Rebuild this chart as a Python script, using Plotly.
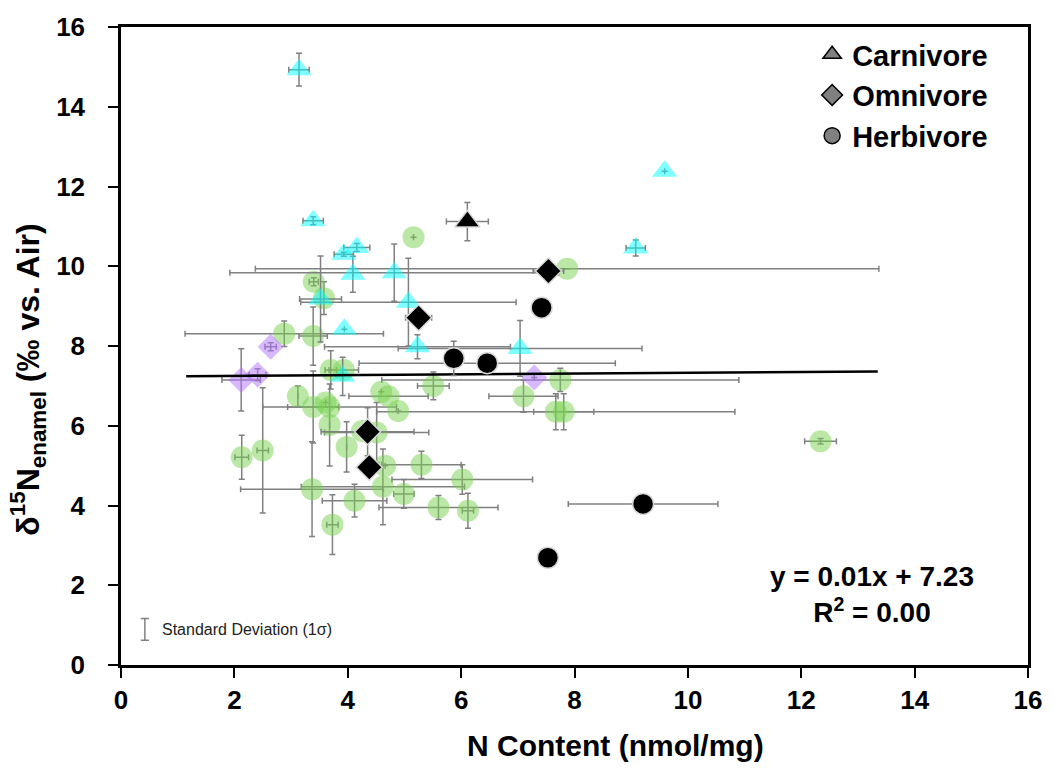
import plotly.graph_objects as go

# ---------------- data ----------------
# Carnivore (cyan triangles)
carn_x = [3.14, 3.39, 4.16, 3.93, 4.09, 4.82, 3.52, 5.07, 3.94, 5.23, 7.04, 3.91, 9.59, 9.08]
carn_y = [14.93, 11.14, 10.47, 10.30, 9.80, 9.84, 9.18, 9.10, 8.42, 7.98, 7.94, 7.24, 12.38, 10.46]
carn_xe = [0.18, 0.18, 0.23, 0.17, None, 2.90, 0.37, 1.90, None, 1.64, 2.15, None, None, 0.17]
carn_ye = [0.41, 0.10, 0.10, 0.05, 0.45, 0.72, 1.08, 1.10, None, 0.30, 0.70, 0.48, None, 0.20]

# Herbivore (green circles)
herb_x = [7.87, 5.16, 3.40, 3.58, 2.88, 3.39, 3.70, 3.93, 7.75, 5.51, 7.10, 4.59, 4.72, 4.89,
          3.12, 3.39, 3.68, 3.61, 3.68, 3.98, 4.25, 4.51, 4.66, 4.62, 5.30, 6.02, 4.99, 4.12,
          3.73, 5.60, 6.12, 3.37, 2.13, 2.50, 7.67, 7.81, 12.34]
herb_y = [9.94, 10.73, 9.61, 9.20, 8.31, 8.25, 7.40, 7.40, 7.15, 7.00, 6.74, 6.85, 6.74, 6.37,
          6.74, 6.47, 6.47, 6.58, 6.02, 5.47, 5.87, 5.83, 5.00, 4.47, 5.02, 4.65, 4.29, 4.12,
          3.52, 3.95, 3.87, 4.41, 5.21, 5.38, 6.35, 6.35, 5.61]
herb_xe = [5.50, None, 0.08, None, 1.75, 0.25, 0.10, 0.26, 3.15, 0.28, 0.61, None, 0.70, None,
           None, 0.45, 1.18, None, None, None, None, 0.92, None, 1.44, 0.70, 1.24, 0.18, 0.57,
           0.10, 1.05, 0.10, 1.26, 0.12, 0.10, 3.16, 0.53, 0.28]
herb_ye = [None, None, 0.10, 0.41, 0.32, 0.73, 0.48, None, 0.29, 0.35, 0.40, None, None, None,
           0.26, 0.90, None, None, 1.03, 0.63, None, 0.75, None, 0.95, 0.34, 0.37, 0.36, 0.41,
           0.75, 0.30, 0.44, 1.19, 0.55, 1.57, 0.45, 0.45, 0.07]

# Omnivore (purple diamonds)
omni_x = [2.64, 2.12, 2.41, 7.29]
omni_y = [7.98, 7.15, 7.28, 7.21]
omni_xe = [0.10, 0.34, 0.15, None]
omni_ye = [0.10, 0.78, 0.15, None]

# This study (black markers)
bcarn_x = [6.11]
bcarn_y = [11.12]
bcarn_xe = [0.37]
bcarn_ye = [0.48]

bomni_x = [7.54, 5.25, 4.35, 4.38]
bomni_y = [9.88, 8.71, 5.85, 4.96]
bomni_xe = [0.27, 0.23, 0.82, None]
bomni_ye = [None, None, 0.60, None]

bherb_x = [5.87, 6.46, 7.42, 9.21, 7.53]
bherb_y = [7.69, 7.57, 8.96, 4.04, 2.69]
bherb_xe = [None, 2.26, None, 1.32, 0.15]
bherb_ye = [0.43, None, None, None, None]

# Linear fit shown on chart
fit_slope = 0.01
fit_intercept = 7.23
fit_r2 = 0.00
fit_x = [1.15, 13.35]
fit_y = [fit_slope * v + fit_intercept for v in fit_x]

legend_names = ["Carnivore", "Omnivore", "Herbivore"]
x_ticks = [0, 2, 4, 6, 8, 10, 12, 14, 16]
y_ticks = [0, 2, 4, 6, 8, 10, 12, 14, 16]

# ---------------- figure ----------------
FONT = "Liberation Sans, Arial, sans-serif"
EB = dict(type="data", color="#808080", thickness=1.5, width=3)

def err(arr):
    d = dict(EB)
    d["array"] = arr
    d["visible"] = True
    return d

fig = go.Figure()

def add(x, y, xe, ye, symbol, size, color, line_color, line_width):
    fig.add_trace(go.Scatter(
        x=x, y=y, mode="markers", showlegend=False,
        marker=dict(symbol=symbol, size=size, color=color,
                    line=dict(color=line_color, width=line_width)),
        error_x=err(xe), error_y=err(ye)))

add(herb_x, herb_y, herb_xe, herb_ye, "circle", 22, "rgba(120,210,80,0.5)", "rgba(0,0,0,0)", 0)
add(omni_x, omni_y, omni_xe, omni_ye, "diamond", 20, "rgba(178,115,255,0.5)", "rgba(0,0,0,0)", 0)
add(carn_x, carn_y, carn_xe, carn_ye, "triangle-up", 22, "rgba(0,255,255,0.5)", "rgba(0,0,0,0)", 0)

# trend line
fig.add_trace(go.Scatter(x=fit_x, y=fit_y, mode="lines", showlegend=False,
                         line=dict(color="black", width=2.5)))

add(bherb_x, bherb_y, bherb_xe, bherb_ye, "circle", 21, "black", "#d8d8d8", 1.5)
add(bomni_x, bomni_y, bomni_xe, bomni_ye, "diamond", 20, "black", "#d8d8d8", 1.5)
add(bcarn_x, bcarn_y, bcarn_xe, bcarn_ye, "triangle-up", 22, "black", "#d8d8d8", 1.5)

# legend-only entries (gray symbols)
for name, sym in zip(legend_names, ["triangle-up", "diamond", "circle"]):
    fig.add_trace(go.Scatter(
        x=[None], y=[None], mode="markers", name=name, legendgroup=name,
        marker=dict(symbol=sym, size=16, color="#808080", line=dict(color="black", width=1.5))))

axis_common = dict(
    showline=True, linecolor="black", linewidth=2.5, mirror=True,
    ticks="outside", ticklen=10, tickwidth=2, tickcolor="black",
    showgrid=False, zeroline=False,
    tickfont=dict(family=FONT, size=26, color="black", weight="bold"),
)

fig.update_xaxes(range=[0, 16], tickvals=x_ticks, ticktext=[str(t) for t in x_ticks],
                 ticklabelstandoff=0, **axis_common)
fig.update_yaxes(range=[0, 16], tickvals=y_ticks, ticktext=[str(t) for t in y_ticks],
                 ticklabelstandoff=18, **axis_common)

# axis titles
fig.add_annotation(xref="paper", yref="paper", x=(618 - 121) / 912, y=(665 - 746) / 645,
                   text="N Content (nmol/mg)", showarrow=False, xanchor="center", yanchor="middle",
                   font=dict(family=FONT, size=30, color="black", weight="bold"))
fig.add_annotation(xref="paper", yref="paper", x=(27 - 121) / 912, y=(665 - 377) / 645,
                   text="δ<sup>15</sup>N<sub>enamel</sub> (‰ vs. Air)", showarrow=False,
                   textangle=-90, xanchor="center", yanchor="middle",
                   font=dict(family=FONT, size=32, color="black", weight="bold"))

# regression text (single two-line label)
eq_text = f"y = {fit_slope:.2f}x + {fit_intercept:.2f}<br>R<sup>2</sup> = {fit_r2:.2f}"
fig.add_annotation(xref="paper", yref="paper", x=(876 - 121) / 912, y=(665 - 594) / 645,
                   text=eq_text, showarrow=False, xanchor="center", yanchor="middle",
                   align="center",
                   font=dict(family=FONT, size=28, color="black", weight="bold"))

# standard deviation key
kx = (145 - 121) / 912
ky0 = (665 - 640) / 645
ky1 = (665 - 618) / 645
fig.add_shape(type="line", xref="paper", yref="paper", x0=kx, x1=kx, y0=ky0, y1=ky1,
              line=dict(color="#808080", width=1.5))
for yy in [ky0, ky1]:
    fig.add_shape(type="line", xref="paper", yref="paper", x0=kx - 0.0045, x1=kx + 0.0045,
                  y0=yy, y1=yy, line=dict(color="#808080", width=1.5))
fig.add_annotation(xref="paper", yref="paper", x=(160 - 121) / 912, y=(665 - 629) / 645,
                   xanchor="left", yanchor="middle",
                   text="Standard Deviation (1σ)", showarrow=False,
                   font=dict(family=FONT, size=16, color="#222222"))

fig.update_layout(
    width=1054, height=771,
    margin=dict(l=121, r=21, t=20, b=106),
    paper_bgcolor="white", plot_bgcolor="white",
    showlegend=True,
    legend=dict(x=0.762, y=0.997, xanchor="left", yanchor="top",
                bgcolor="rgba(0,0,0,0)", tracegroupgap=0,
                font=dict(family=FONT, size=29, color="black", weight="bold")),
)

fig.write_html("out.html")
